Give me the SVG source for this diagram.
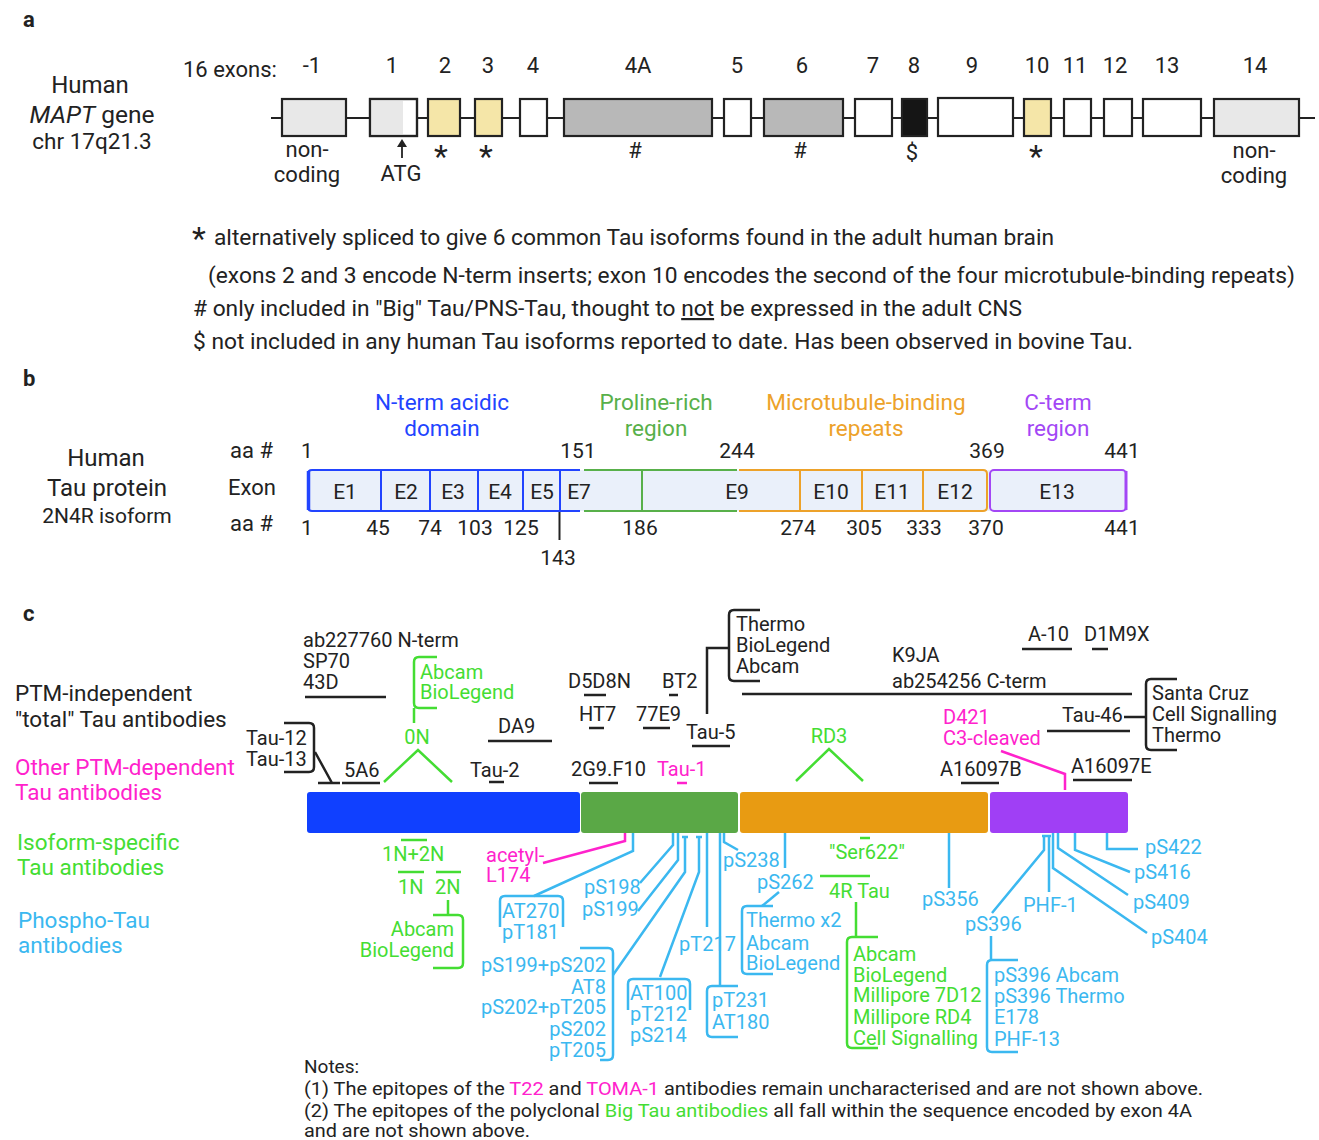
<svg xmlns="http://www.w3.org/2000/svg" width="1319" height="1140" viewBox="0 0 1319 1140">
<style>
text{font-family:Roboto,"Liberation Sans",sans-serif;fill:#222}
.a22{font-size:22px}
.c{font-size:20px}
.lg{font-size:22.5px}
.mid{text-anchor:middle}
.end{text-anchor:end}
.bold{font-weight:bold}
.ex{stroke:#222;stroke-width:2.2}
.ln{stroke:#222;stroke-width:2.5;fill:none}
.gl{stroke:#44dd33;stroke-width:2.5;fill:none}
.bl{stroke:#3bb8f0;stroke-width:2.5;fill:none}
.ml{stroke:#ff22cc;stroke-width:2.5;fill:none}
.tg{fill:#44dd33}
.tb{fill:#3bb8f0}
.tm{fill:#ff22cc}
.ast{font-size:32px;text-anchor:middle}
</style>
<rect width="1319" height="1140" fill="#fff"/>

<!-- PANEL A -->
<g id="panel-a">
<text x="23" y="27" class="bold" font-size="22">a</text>
<g id="gene-label">
<text x="90" y="93" class="mid" font-size="24">Human</text>
<text x="92" y="123" class="mid" font-size="24.5"><tspan font-style="italic">MAPT</tspan> gene</text>
<text x="92" y="149" class="mid" font-size="22.5">chr 17q21.3</text>
</g>
<text x="183" y="77" class="a22">16 exons:</text>
<g id="exon-numbers" class="a22">
<text x="312" y="73" class="mid">-1</text>
<text x="392" y="73" class="mid">1</text>
<text x="445" y="73" class="mid">2</text>
<text x="488" y="73" class="mid">3</text>
<text x="533" y="73" class="mid">4</text>
<text x="638" y="73" class="mid">4A</text>
<text x="737" y="73" class="mid">5</text>
<text x="802" y="73" class="mid">6</text>
<text x="873" y="73" class="mid">7</text>
<text x="914" y="73" class="mid">8</text>
<text x="972" y="73" class="mid">9</text>
<text x="1037" y="73" class="mid">10</text>
<text x="1075" y="73" class="mid">11</text>
<text x="1115" y="73" class="mid">12</text>
<text x="1167" y="73" class="mid">13</text>
<text x="1255" y="73" class="mid">14</text>
</g>
<line x1="271" y1="118" x2="1315" y2="118" stroke="#222" stroke-width="2"/>
<g id="exons">
<rect x="282" y="99" width="64" height="37" fill="#e8e8e8" class="ex"/>
<rect x="370" y="99" width="47" height="37" fill="#fff" class="ex"/>
<rect x="371" y="100" width="32" height="35" fill="#e8e8e8"/>
<rect x="370" y="99" width="47" height="37" fill="none" class="ex"/>
<rect x="428" y="99" width="32" height="37" fill="#f5e6a8" class="ex"/>
<rect x="475" y="99" width="27" height="37" fill="#f5e6a8" class="ex"/>
<rect x="520" y="99" width="27" height="37" fill="#fff" class="ex"/>
<rect x="564" y="99" width="148" height="37" fill="#b8b8b8" class="ex"/>
<rect x="724" y="99" width="27" height="37" fill="#fff" class="ex"/>
<rect x="764" y="99" width="79" height="37" fill="#b8b8b8" class="ex"/>
<rect x="855" y="99" width="37" height="37" fill="#fff" class="ex"/>
<rect x="902" y="99" width="25" height="37" fill="#151515" class="ex"/>
<rect x="938" y="98" width="75" height="38" fill="#fff" class="ex"/>
<rect x="1024" y="99" width="27" height="37" fill="#f5e6a8" class="ex"/>
<rect x="1064" y="99" width="27" height="37" fill="#fff" class="ex"/>
<rect x="1104" y="99" width="28" height="37" fill="#fff" class="ex"/>
<rect x="1143" y="99" width="58" height="37" fill="#fff" class="ex"/>
<rect x="1214" y="99" width="85" height="37" fill="#e8e8e8" class="ex"/>
</g>
<g id="exon-notes" class="a22">
<text x="307" y="157" class="mid">non-</text>
<text x="307" y="182" class="mid">coding</text>
<line x1="402" y1="158" x2="402" y2="146" stroke="#222" stroke-width="1.8"/>
<path d="M397,147 L402,139 L407,147 Z" fill="#222"/>
<text x="401" y="181" class="mid">ATG</text>
<text x="441" y="167" class="ast">*</text>
<text x="486" y="167" class="ast">*</text>
<text x="635" y="158" class="mid">#</text>
<text x="800" y="158" class="mid">#</text>
<text x="912" y="160" class="mid">$</text>
<text x="1036" y="167" class="ast">*</text>
<text x="1254" y="158" class="mid">non-</text>
<text x="1254" y="183" class="mid">coding</text>
</g>
<g id="legend-a" class="a22">
<text x="199" y="249" class="ast" font-size="34">*</text>
<text x="214" y="245" textLength="840" lengthAdjust="spacingAndGlyphs">alternatively spliced to give 6 common Tau isoforms found in the adult human brain</text>
<text x="208" y="283" textLength="1087" lengthAdjust="spacingAndGlyphs">(exons 2 and 3 encode N-term inserts; exon 10 encodes the second of the four microtubule-binding repeats)</text>
<text x="193" y="316" textLength="829" lengthAdjust="spacingAndGlyphs"># only included in "Big" Tau/PNS-Tau, thought to <tspan text-decoration="underline">not</tspan> be expressed in the adult CNS</text>
<text x="193" y="349" textLength="940" lengthAdjust="spacingAndGlyphs">$ not included in any human Tau isoforms reported to date. Has been observed in bovine Tau.</text>
</g>
</g>

<!-- PANEL B -->
<g id="panel-b">
<text x="23" y="386" class="bold" font-size="22">b</text>
<g id="protein-label">
<text x="106" y="466" font-size="24" class="mid">Human</text>
<text x="107" y="496" font-size="24" class="mid">Tau protein</text>
<text x="107" y="523" font-size="21" class="mid">2N4R isoform</text>
</g>
<g id="domain-labels" font-size="22.5">
<text x="442" y="410" class="mid" style="fill:#2244ff">N-term acidic</text>
<text x="442" y="436" class="mid" style="fill:#2244ff">domain</text>
<text x="656" y="410" class="mid" style="fill:#58b04a">Proline-rich</text>
<text x="656" y="436" class="mid" style="fill:#58b04a">region</text>
<text x="866" y="410" class="mid" style="fill:#eda22a">Microtubule-binding</text>
<text x="866" y="436" class="mid" style="fill:#eda22a">repeats</text>
<text x="1058" y="410" class="mid" style="fill:#a347f5">C-term</text>
<text x="1058" y="436" class="mid" style="fill:#a347f5">region</text>
</g>
<g id="aa-labels" font-size="22">
<text x="230" y="458">aa #</text>
<text x="228" y="495">Exon</text>
<text x="230" y="531">aa #</text>
</g>
<g id="aa-top" font-size="21">
<text x="307" y="458" class="mid">1</text>
<text x="578" y="458" class="mid">151</text>
<text x="737" y="458" class="mid">244</text>
<text x="987" y="458" class="mid">369</text>
<text x="1122" y="458" class="mid">441</text>
</g>
<g id="exon-bar">
<rect x="308" y="470" width="819" height="41" fill="#eaf0fa"/>
<path d="M580,470 H312 Q308,470 308,474 V507 Q308,511 312,511 H580" fill="none" stroke="#2244ff" stroke-width="2"/>
<line x1="308.5" y1="471" x2="308.5" y2="510" stroke="#2244ff" stroke-width="3.5"/>
<g stroke="#2244ff" stroke-width="2">
<line x1="381" y1="470" x2="381" y2="511"/>
<line x1="430" y1="470" x2="430" y2="511"/>
<line x1="478" y1="470" x2="478" y2="511"/>
<line x1="523" y1="470" x2="523" y2="511"/>
<line x1="560" y1="470" x2="560" y2="511"/>
</g>
<g stroke="#58b04a" stroke-width="2">
<line x1="584" y1="470" x2="737" y2="470"/>
<line x1="584" y1="511" x2="737" y2="511"/>
<line x1="642" y1="470" x2="642" y2="511"/>
</g>
<path d="M739,470 H983 Q987,470 987,474 V507 Q987,511 983,511 H739" fill="none" stroke="#eda22a" stroke-width="2"/>
<g stroke="#eda22a" stroke-width="2">
<line x1="800" y1="470" x2="800" y2="511"/>
<line x1="862" y1="470" x2="862" y2="511"/>
<line x1="923" y1="470" x2="923" y2="511"/>
</g>
<rect x="990" y="470" width="136" height="41" rx="4" fill="none" stroke="#a347f5" stroke-width="2"/>
<line x1="1126" y1="471" x2="1126" y2="510" stroke="#a347f5" stroke-width="3"/>
<g font-size="21">
<text x="345" y="499" class="mid">E1</text>
<text x="406" y="499" class="mid">E2</text>
<text x="453" y="499" class="mid">E3</text>
<text x="500" y="499" class="mid">E4</text>
<text x="542" y="499" class="mid">E5</text>
<text x="579" y="499" class="mid">E7</text>
<text x="737" y="499" class="mid">E9</text>
<text x="831" y="499" class="mid">E10</text>
<text x="892" y="499" class="mid">E11</text>
<text x="955" y="499" class="mid">E12</text>
<text x="1057" y="499" class="mid">E13</text>
</g>
</g>
<g id="aa-bottom" font-size="21">
<text x="307" y="535" class="mid">1</text>
<text x="378" y="535" class="mid">45</text>
<text x="430" y="535" class="mid">74</text>
<text x="475" y="535" class="mid">103</text>
<text x="521" y="535" class="mid">125</text>
<line x1="559.5" y1="512" x2="559.5" y2="540" stroke="#222" stroke-width="2"/>
<text x="558" y="565" class="mid">143</text>
<text x="640" y="535" class="mid">186</text>
<text x="798" y="535" class="mid">274</text>
<text x="864" y="535" class="mid">305</text>
<text x="924" y="535" class="mid">333</text>
<text x="986" y="535" class="mid">370</text>
<text x="1122" y="535" class="mid">441</text>
</g>
</g>

<!-- PANEL C -->
<g id="panel-c">
<text x="23" y="621" class="bold" font-size="22">c</text>
<g id="legend-c" class="lg">
<text x="15" y="701">PTM-independent</text>
<text x="15" y="727">"total" Tau antibodies</text>
<text x="15" y="775" class="tm">Other PTM-dependent</text>
<text x="15" y="800" class="tm">Tau antibodies</text>
<text x="17" y="850" class="tg">Isoform-specific</text>
<text x="17" y="875" class="tg">Tau antibodies</text>
<text x="18" y="928" class="tb">Phospho-Tau</text>
<text x="18" y="953" class="tb">antibodies</text>
</g>
<g id="tau-bar">
<rect x="307" y="792" width="273" height="41" rx="3" fill="#1040ff"/>
<rect x="581" y="792" width="157" height="41" rx="3" fill="#5aa846"/>
<rect x="740" y="792" width="248" height="41" rx="3" fill="#e89b12"/>
<rect x="990" y="792" width="138" height="41" rx="3" fill="#a03ff5"/>
</g>

<g id="connectors">
<g class="ln">
<path d="M305,697 H386"/>
<path d="M284,723 H309 Q314,723 314,728 V767 Q314,772 309,772 H284"/>
<path d="M315,752 L332,783 M318,783 H340"/>
<path d="M342,783 H380"/>
<path d="M488,741 H552"/>
<path d="M489,782 H504"/>
<path d="M584,695 H606"/>
<path d="M589,728 H604"/>
<path d="M643,728 H670"/>
<path d="M669,695 H678"/>
<path d="M692,746 H730"/>
<path d="M707,714 V648 H729"/>
<path d="M760,610 H734 Q729,610 729,615 V676 Q729,681 734,681 H760"/>
<path d="M589,783 H618"/>
<path d="M742,694 H1132"/>
<path d="M1022,649 H1072"/>
<path d="M1092,649 H1108"/>
<path d="M1047,731 H1130"/>
<path d="M1124,717 H1146"/>
<path d="M1177,679 H1151 Q1146,679 1146,684 V745 Q1146,750 1151,750 H1177"/>
<path d="M961,783 H999"/>
<path d="M1073,780 H1132"/>
</g>
<g class="ml">
<path d="M677,783 H687"/>
<path d="M1001,751 L1065,774 V790"/>
<path d="M543,863 L625,841 V833"/>
</g>
<g class="gl">
<path d="M437,657 H419 Q414,657 414,662 V703 Q414,708 419,708 H437 M414,708 V723"/>
<path d="M384,782 L418,750 L452,782"/>
<path d="M796,781 L829,749 L863,781"/>
<path d="M401,840 H427"/>
<path d="M398,872 H424"/>
<path d="M436,872 H461"/>
<path d="M448,900 V915"/>
<path d="M433,915 H458 Q463,915 463,920 V963 Q463,968 458,968 H433"/>
<path d="M860,838 H870"/>
<path d="M820,876 H870"/>
<path d="M856,902 V937"/>
<path d="M878,937 H852 Q847,937 847,942 V1043 Q847,1048 852,1048 H878"/>
</g>
<g class="bl">
<path d="M633,833 V851 L534,896"/>
<path d="M500,927 V901 Q500,896 505,896 H558 Q563,896 563,901 V927"/>
<path d="M640,883 L673,845 V833"/>
<path d="M638,911 L678,860 V833"/>
<path d="M613,975 L685,872 V837 M682,837 H688"/>
<path d="M580,948 H608 Q613,948 613,953 V1055 Q613,1060 608,1060 H600"/>
<path d="M660,977 L699,872 V837 M696,837 H702"/>
<path d="M628,1010 V984 Q628,979 633,979 H685 Q690,979 690,984 V1010"/>
<path d="M707,833 V927"/>
<path d="M720,833 V986"/>
<path d="M738,986 H712 Q707,986 707,991 V1032 Q707,1037 712,1037 H738"/>
<path d="M724,833 V842 L738,850"/>
<path d="M785,833 V868"/>
<path d="M779,892 L762,906"/>
<path d="M773,906 H747 Q742,906 742,911 V969 Q742,974 747,974 H773"/>
<path d="M949,833 V888"/>
<path d="M1044,836 V850 L992,913"/>
<path d="M991,936 V960"/>
<path d="M1018,960 H992 Q987,960 987,965 V1047 Q987,1052 992,1052 H1018"/>
<path d="M1042,836 H1051 M1049,836 V892"/>
<path d="M1053,833 V868 L1147,933"/>
<path d="M1058,833 V848 L1128,895"/>
<path d="M1075,833 V850 L1130,872"/>
<path d="M1107,833 V849 H1138"/>
</g>
</g>

<g id="total-antibodies" class="c">
<text x="303" y="647">ab227760 N-term</text>
<text x="303" y="668">SP70</text>
<text x="303" y="689">43D</text>
<text x="246" y="745">Tau-12</text>
<text x="246" y="766">Tau-13</text>
<text x="344" y="777">5A6</text>
<text x="498" y="733">DA9</text>
<text x="470" y="777">Tau-2</text>
<text x="568" y="688">D5D8N</text>
<text x="662" y="688">BT2</text>
<text x="579" y="721">HT7</text>
<text x="636" y="721">77E9</text>
<text x="686" y="739">Tau-5</text>
<text x="571" y="776">2G9.F10</text>
<text x="736" y="631">Thermo</text>
<text x="736" y="652">BioLegend</text>
<text x="736" y="673">Abcam</text>
<text x="892" y="662">K9JA</text>
<text x="892" y="688">ab254256 C-term</text>
<text x="1028" y="641">A-10</text>
<text x="1084" y="641">D1M9X</text>
<text x="1062" y="722">Tau-46</text>
<text x="1152" y="700">Santa Cruz</text>
<text x="1152" y="721">Cell Signalling</text>
<text x="1152" y="742">Thermo</text>
<text x="940" y="776">A16097B</text>
<text x="1071" y="773">A16097E</text>
</g>
<g id="ptm-antibodies" class="c">
<text x="657" y="776" class="tm">Tau-1</text>
<text x="943" y="724" class="tm">D421</text>
<text x="943" y="745" class="tm">C3-cleaved</text>
<text x="486" y="862" class="tm">acetyl-</text>
<text x="486" y="882" class="tm">L174</text>
</g>
<g id="isoform-antibodies" class="c">
<text x="420" y="679" class="tg">Abcam</text>
<text x="420" y="699" class="tg">BioLegend</text>
<text x="417" y="744" class="tg mid">0N</text>
<text x="829" y="743" class="tg mid">RD3</text>
<text x="382" y="861" class="tg">1N+2N</text>
<text x="398" y="894" class="tg">1N</text>
<text x="435" y="894" class="tg">2N</text>
<text x="454" y="936" class="tg end">Abcam</text>
<text x="454" y="957" class="tg end">BioLegend</text>
<text x="829" y="859" class="tg">"Ser622"</text>
<text x="829" y="898" class="tg">4R Tau</text>
<text x="853" y="961" class="tg">Abcam</text>
<text x="853" y="982" class="tg">BioLegend</text>
<text x="853" y="1002" class="tg">Millipore 7D12</text>
<text x="853" y="1024" class="tg">Millipore RD4</text>
<text x="853" y="1045" class="tg">Cell Signalling</text>
</g>
<g id="phospho-antibodies" class="c">
<text x="502" y="918" class="tb">AT270</text>
<text x="502" y="939" class="tb">pT181</text>
<text x="584" y="894" class="tb">pS198</text>
<text x="582" y="916" class="tb">pS199</text>
<text x="606" y="972" class="tb end">pS199+pS202</text>
<text x="606" y="994" class="tb end">AT8</text>
<text x="606" y="1014" class="tb end">pS202+pT205</text>
<text x="606" y="1036" class="tb end">pS202</text>
<text x="606" y="1057" class="tb end">pT205</text>
<text x="679" y="951" class="tb">pT217</text>
<text x="630" y="1000" class="tb">AT100</text>
<text x="630" y="1021" class="tb">pT212</text>
<text x="630" y="1042" class="tb">pS214</text>
<text x="712" y="1007" class="tb">pT231</text>
<text x="712" y="1029" class="tb">AT180</text>
<text x="723" y="867" class="tb">pS238</text>
<text x="757" y="889" class="tb">pS262</text>
<text x="746" y="927" class="tb">Thermo x2</text>
<text x="746" y="950" class="tb">Abcam</text>
<text x="746" y="970" class="tb">BioLegend</text>
<text x="922" y="906" class="tb">pS356</text>
<text x="965" y="931" class="tb">pS396</text>
<text x="1023" y="912" class="tb">PHF-1</text>
<text x="994" y="982" class="tb">pS396 Abcam</text>
<text x="994" y="1003" class="tb">pS396 Thermo</text>
<text x="994" y="1024" class="tb">E178</text>
<text x="994" y="1046" class="tb">PHF-13</text>
<text x="1145" y="854" class="tb">pS422</text>
<text x="1134" y="879" class="tb">pS416</text>
<text x="1133" y="909" class="tb">pS409</text>
<text x="1151" y="944" class="tb">pS404</text>
</g>
<g id="notes" font-size="19">
<text x="304" y="1073">Notes:</text>
<text x="304" y="1095" textLength="899" lengthAdjust="spacingAndGlyphs">(1) The epitopes of the <tspan class="tm">T22</tspan> and <tspan class="tm">TOMA-1</tspan> antibodies remain uncharacterised and are not shown above.</text>
<text x="304" y="1117" textLength="888" lengthAdjust="spacingAndGlyphs">(2) The epitopes of the polyclonal <tspan class="tg">Big Tau antibodies</tspan> all fall within the sequence encoded by exon 4A</text>
<text x="304" y="1137" textLength="226" lengthAdjust="spacingAndGlyphs">and are not shown above.</text>
</g>
</g>
</svg>
